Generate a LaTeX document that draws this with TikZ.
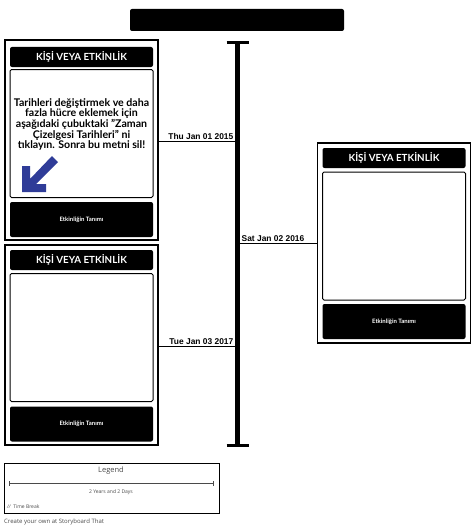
\documentclass[tikz,border=0pt]{standalone}
\usepackage{fontspec}
\setmainfont{Lato}
\newfontfamily\datefont{Liberation Sans}
\newfontfamily\legendfont{Open Sans}
\usetikzlibrary{positioning}
\definecolor{arrowblue}{HTML}{2F3C98}
\definecolor{legendgray}{HTML}{4A4A4A}

\begin{document}
\begin{tikzpicture}[x=1pt, y=-1pt]

      \tikzset{card/.style={draw, line width=1.3pt, minimum width=153pt, minimum height=200pt, inner sep=0pt},
               cardhead/.style={fill=black, rounded corners=2pt, minimum width=143pt, minimum height=20pt, inner sep=0pt, text=white, font=\bfseries\fontsize{9.8}{10}\selectfont},
               cardbody/.style={draw, line width=1pt, rounded corners=1.5pt, minimum width=143pt, minimum height=128pt, inner sep=0pt},
               cardfoot/.style={fill=black, rounded corners=2pt, minimum width=143pt, minimum height=35pt, inner sep=0pt, text=white, font=\bfseries\fontsize{6}{6}\selectfont},
               datelabel/.style={inner sep=1pt, font=\datefont\bfseries\fontsize{8.4}{9}\selectfont},
               link/.style={line width=1pt}}
      \useasboundingbox (0,0) rectangle (474,527);
%% Title
      	\node[fill=black, rounded corners=2pt, minimum width=214pt, minimum height=22pt, inner sep=0pt] (title) at (237,20) {};
%% Timeline
      	\coordinate (ttop) at (237.5,43);
      	\coordinate (tbot) at (237.5,445.5);
      	\draw[line width=5pt] (ttop) -- (tbot);
      	\draw[line width=3pt] ([xshift=-11pt]ttop) -- ([xshift=11pt]ttop);
      	\draw[line width=3pt] ([xshift=-11pt]tbot) -- ([xshift=11pt]tbot);
      	\coordinate (t1) at (237.5,141);
      	\coordinate (t2) at (237.5,243);
      	\coordinate (t3) at (237.5,346);
%% Cards
      	\node[card] (card1) at (81.5,140) {};
      	\node[cardhead] (head1) at (81.5,57) {KİŞİ VEYA ETKİNLİK};
      	\node[cardbody] (body1) at (81.5,133.5) {};
      	\node[cardfoot] (foot1) at (81.5,219.5) {Etkinliğin Tanımı};

      	\node[card] (card2) at (394,243) {};
      	\node[cardhead] (head2) at (394,158) {KİŞİ VEYA ETKİNLİK};
      	\node[cardbody] (body2) at (394,236) {};
      	\node[cardfoot] (foot2) at (394,321.5) {Etkinliğin Tanımı};

      	\node[card] (card3) at (81.5,345) {};
      	\node[cardhead] (head3) at (81.5,260) {KİŞİ VEYA ETKİNLİK};
      	\node[cardbody] (body3) at (81.5,337.5) {};
      	\node[cardfoot] (foot3) at (81.5,424) {Etkinliğin Tanımı};
%% Hint text and arrow
      	\node[align=center, inner sep=0pt, font=\bfseries\fontsize{10.6}{10.7}\selectfont] (hint) at (81.5,124.5)
      	  {Tarihleri değiştirmek ve daha\\fazla hücre eklemek için\\aşağıdaki çubuktaki "Zaman\\Çizelgesi Tarihleri" ni\\tıklayın. Sonra bu metni sil!};
      	\fill[arrowblue] (22,192) -- (22,166) -- (30,166) -- (30,179) -- (52,156) -- (58,162) -- (36,184) -- (46,184) -- (46,192) -- cycle;
%% Connectors
      	\draw[link] (card1.east |- t1) -- (t1);
      	\draw[link] (t2) -- (card2.west |- t2);
      	\draw[link] (card3.east |- t3) -- (t3);
      	\node[datelabel, anchor=south east] (d1) at ([xshift=-3pt]t1) {Thu Jan 01 2015};
      	\node[datelabel, anchor=south west] (d2) at ([xshift=3pt]t2) {Sat Jan 02 2016};
      	\node[datelabel, anchor=south east] (d3) at ([xshift=-3pt]t3) {Tue Jan 03 2017};
%% Legend
      	\node[draw, line width=0.9pt, minimum width=215pt, minimum height=50pt, inner sep=0pt] (legend) at (111.5,488) {};
      	\node[text=legendgray, font=\legendfont\fontsize{7.5}{8}\selectfont] (legendtitle) at (111,471) {Legend};
      	\coordinate (sleft) at (9.5,483);
      	\coordinate (sright) at (213.5,483);
      	\draw[legendgray, line width=0.5pt] (sleft) -- (sright);
      	\draw[legendgray, line width=0.5pt] ([yshift=-2.5pt]sleft) -- ([yshift=2.5pt]sleft);
      	\draw[legendgray, line width=0.5pt] ([yshift=-2.5pt]sright) -- ([yshift=2.5pt]sright);
      	\node[text=legendgray, font=\legendfont\fontsize{5}{6}\selectfont] (span) at (111,492) {2 Years and 2 Days};
      	\node[text=legendgray, anchor=west, inner sep=0pt, font=\legendfont\fontsize{5}{6}\selectfont] (tbreak) at (7,506.5) {\textit{//}\, Time Break};
      	\node[text=legendgray, anchor=west, inner sep=0pt, font=\legendfont\fontsize{6}{7}\selectfont] (credit) at (4,522) {Create your own at Storyboard That};

	\end{tikzpicture}
\end{document}
